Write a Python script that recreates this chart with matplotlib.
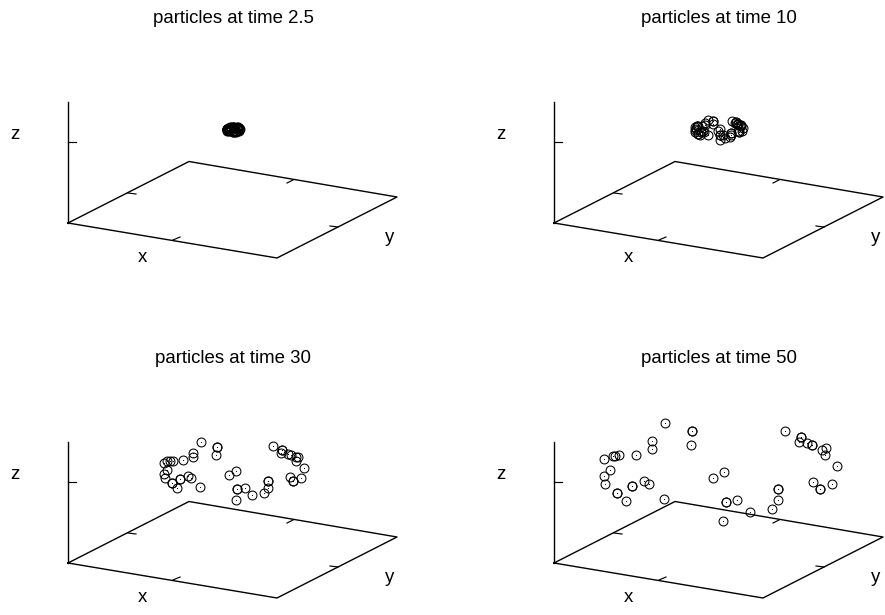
import matplotlib

matplotlib.use("Agg")
import matplotlib.pyplot as plt

plt.rcParams["font.family"] = ["Liberation Sans", "DejaVu Sans"]

titles = [
    "particles at time 2.5",
    "particles at time 10",
    "particles at time 30",
    "particles at time 50",
]

# particle positions (projected, in px of each panel)
x_t2_5 = [226.5, 227, 227.1, 227.4, 228.3, 229.2, 229.2, 229.9, 231.4, 231.4, 226.8, 226.5, 226.6,
          227.2, 227.7, 228, 228.7, 229, 229.9, 232.6, 233.2, 233.3, 233.9, 234.7, 233.2, 235.9,
          236.2, 236.2, 236.6, 237.5, 237.4, 237.8, 238.1, 238.7, 238.9, 238.8, 239.5, 238.2,
          238.5, 239.2]
y_t2_5 = [128.7, 128.5, 128.5, 128.5, 128.4, 127.6, 128.1, 127.2, 127, 127.9, 129.4, 129.7, 130.2,
          130.7, 131.2, 130.3, 130, 130.2, 131.1, 127, 126.8, 131.6, 127.1, 131.9, 132.2, 131.7,
          131.1, 130.5, 127.3, 127.4, 127.7, 127.8, 127.9, 128.2, 128.1, 128.5, 129.1, 130.1,
          130.5, 130.2]

x_t10 = [209, 210.8, 211.4, 212.2, 215.6, 219, 219, 221.7, 227.2, 227.2, 227, 210.2, 209.1, 209.3,
         211.7, 211.7, 213.5, 214.8, 214.8, 217.3, 218.3, 221.5, 231.6, 233.8, 234.2, 234.2, 236.5,
         239.1, 233.6, 243.6, 244.8, 244.9, 244.9, 246.3, 249.7, 249.7, 249.1, 250.8, 252, 252,
         254, 254.7, 254.5, 257, 252.1, 253.4, 253.4, 256]
y_t10 = [126.8, 126.1, 126.1, 126, 125.9, 123, 124.7, 119.5, 121.1, 121.1, 123.9, 129, 130.3, 131.9,
         133.7, 133.7, 135.3, 132.3, 132.3, 131.2, 131.9, 134.9, 130.6, 129.3, 135.4, 135.4, 135,
         137.5, 139.5, 136.9, 135, 132.9, 132.9, 121.1, 122.2, 122.2, 123.4, 123.6, 123.9, 123.9,
         124.9, 124.5, 125.9, 127.8, 131, 132.4, 132.4, 131.3]

x_t30 = [164, 167.3, 170, 172.7, 183.3, 193.3, 193.3, 200.7, 216.7, 217, 216, 167.3, 164, 164.7,
         171.7, 171.7, 177.3, 180.3, 180.3, 188, 190.7, 200.3, 229.3, 236.3, 237.3, 237.3, 244.7,
         251.7, 235.7, 264.3, 268.3, 268, 268, 272.7, 282.3, 282.3, 281, 288.3, 290.7, 296,
         297.7, 296, 303.7, 289.7, 293, 293, 300.7]
y_t30 = [123.3, 121, 121, 121, 120.3, 112.7, 116.7, 102, 106.7, 106.7, 115, 130, 134, 138,
         143.3, 143.3, 148.3, 139.3, 139.3, 136.3, 138.3, 147, 135, 130.7, 149, 149, 147.7,
         154.7, 160.3, 153.3, 148, 141.3, 141.3, 106.3, 110, 110, 113.3, 114.3, 115.3, 117.3,
         116.7, 121, 127.7, 137, 141, 141, 138]

x_t50 = [117.7, 126.7, 129.3, 133.3, 150, 166.3, 166.3, 179.3, 206, 206, 205, 123.7, 118.3, 119.3,
         131, 131, 139.7, 145.7, 145.7, 158, 162.7, 178.3, 227.3, 238.3, 240.3, 240.3, 251.3,
         264, 237.3, 285.7, 291.7, 292, 292, 299, 315.3, 315.3, 312.7, 320.7, 326.3, 326.3,
         336.3, 339.7, 338.7, 351, 327.3, 333.7, 333.7, 346]
y_t50 = [119, 115.7, 115.7, 115.3, 114.7, 100.7, 108.7, 83.3, 91.3, 91.3, 105, 130.3, 136.3, 144,
         153, 153, 160.7, 146.3, 146.3, 140.7, 144.3, 158.7, 138, 131.7, 162, 162, 159.7,
         171.7, 181.3, 168.7, 159.7, 149.3, 149.3, 91.3, 96.7, 96.7, 102.3, 103.3, 105, 105,
         110, 108, 115, 126.3, 142.3, 149.3, 149.3, 143.7]

series_x = [x_t2_5, x_t10, x_t30, x_t50]
series_y = [y_t2_5, y_t10, y_t30, y_t50]

# projected box: floor outline, z axis and the short tick marks
floor_x = [68, 189, 397, 277, 68]
floor_y = [223, 161.5, 197, 258, 223]
zaxis_x = [68, 68]
zaxis_y = [223, 102]
tick_x = [[68, 76], [173, 180], [287, 293], [128, 136], [330, 338]]
tick_y = [[142, 142], [240, 237], [183, 180], [193, 194], [226, 227]]

PANEL_W, PANEL_H = 399, 275
fig = plt.figure(figsize=(8.85, 6.15), dpi=100)

for i in range(4):
    col = i % 2
    row = i // 2
    left = col * 486 / 885
    bottom = 1 - (row * 340 + PANEL_H) / 615
    ax = fig.add_axes([left, bottom, PANEL_W / 885, PANEL_H / 615])
    ax.set_xlim(0, PANEL_W)
    ax.set_ylim(PANEL_H, 0)
    ax.axis("off")

    ax.plot(floor_x, floor_y, color="black", lw=1.0)
    ax.plot(zaxis_x, zaxis_y, color="black", lw=1.0)
    for tx, ty in zip(tick_x, tick_y):
        ax.plot(tx, ty, color="black", lw=0.85)

    ax.plot(series_x[i], series_y[i], ls="none", marker="o", ms=6.4, mfc="none",
            mec="black", mew=0.75)
    ax.plot(series_x[i], series_y[i], ls="none", marker="o", ms=0.8, mfc="black",
            mec="none")

    ax.text(233, 23, titles[i], ha="center", va="baseline", fontsize=13.4)
    ax.text(15, 139, "z", ha="center", va="baseline", fontsize=13.4)
    ax.text(142, 261.5, "x", ha="center", va="baseline", fontsize=13.4)
    ax.text(390, 242, "y", ha="center", va="baseline", fontsize=13.4)

fig.savefig("out.png", dpi=100)
plt.close()
